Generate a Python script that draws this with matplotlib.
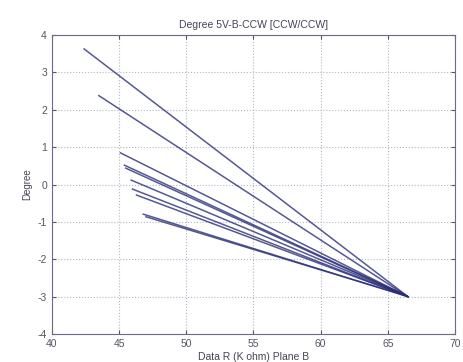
import matplotlib
matplotlib.use('Agg')
import matplotlib.pyplot as plt

plt.rcParams['font.family'] = ['Liberation Sans', 'DejaVu Sans']
plt.rcParams['axes.unicode_minus'] = False

# start / end of each trace
x_start = [42.4, 43.5, 45.1, 45.4, 45.5, 45.9, 46.0, 46.3, 46.8, 47.0]
y_start = [3.63, 2.38, 0.85, 0.52, 0.44, 0.12, -0.12, -0.28, -0.79, -0.86]
x_end = [66.5, 66.4, 66.5, 66.3, 66.5, 66.4, 66.5, 66.3, 66.5, 66.4]
y_end = [-3.0, -2.98, -3.0, -2.96, -3.0, -2.98, -3.0, -2.97, -3.0, -2.98]

xticks = [40, 45, 50, 55, 60, 65, 70]
yticks = [-4, -3, -2, -1, 0, 1, 2, 3, 4]

fig = plt.figure(figsize=(4.63, 3.62), dpi=100)
ax = fig.add_axes([0.112, 0.077, 0.871, 0.826])

for xs, ys, xe, ye in zip(x_start, y_start, x_end, y_end):
    ax.plot([xs, xe], [ys, ye], color='#2b2f78', lw=1.1, alpha=0.8)

ax.set_xlim(40, 70)
ax.set_ylim(-4, 4)
ax.set_xticks(xticks)
ax.set_yticks(yticks)
ax.grid(True, linestyle=':', color='#b4b4cc', lw=0.8)
ax.tick_params(direction='in', top=True, right=True, labelsize=7.5,
               colors='#555566', length=3)
for s in ax.spines.values():
    s.set_color('#6a6a8a')

ax.set_title('Degree 5V-B-CCW [CCW/CCW]', fontsize=7.5, color='#444455', pad=5)
ax.set_xlabel('Data R (K ohm) Plane B', fontsize=7.5, color='#444455', labelpad=2)
ax.set_ylabel('Degree', fontsize=7, color='#444455', labelpad=4)

fig.savefig('out.png', dpi=100)
